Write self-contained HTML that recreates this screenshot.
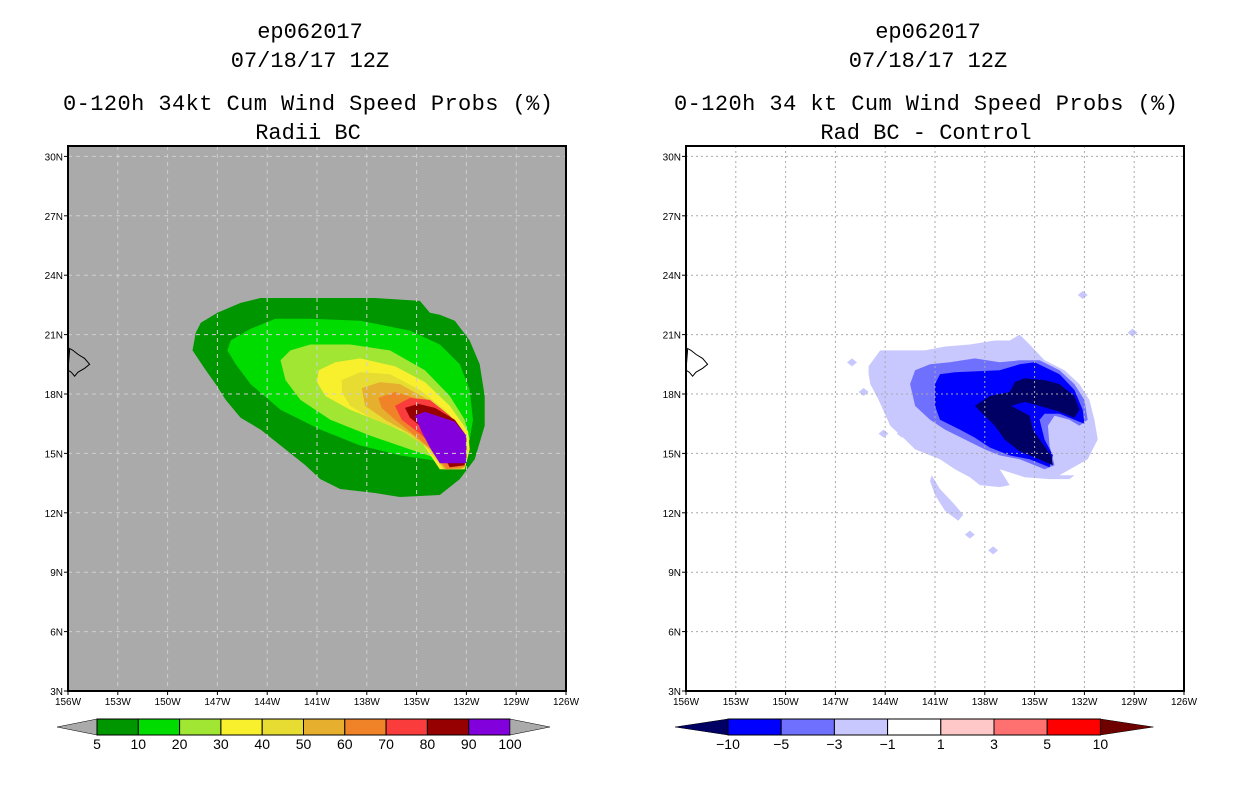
<!DOCTYPE html>
<html><head><meta charset="utf-8"><title>ep062017 wind speed probs</title>
<style>html,body{margin:0;padding:0;background:#fff;}svg{display:block;}</style></head>
<body>
<svg id="chart" width="1236" height="800" viewBox="0 0 1236 800" xmlns="http://www.w3.org/2000/svg" font-family="'Liberation Mono', monospace">
<g font-size="22" text-anchor="middle" fill="#000">
<text x="310" y="38">ep062017</text>
<text x="310" y="67">07/18/17 12Z</text>
<text x="308" y="110" textLength="490">0-120h 34kt Cum Wind Speed Probs (%)</text>
<text x="308" y="139">Radii BC</text>
</g>
<g font-size="22" text-anchor="middle" fill="#000">
<text x="928" y="38">ep062017</text>
<text x="928" y="67">07/18/17 12Z</text>
<text x="926" y="110" textLength="504">0-120h 34 kt Cum Wind Speed Probs (%)</text>
<text x="926" y="139">Rad BC - Control</text>
</g>
<g id="L"></g>
<g id="R"></g>
</svg>
<script>
const NS="http://www.w3.org/2000/svg";
const lonTicks=[-156,-153,-150,-147,-144,-141,-138,-135,-132,-129,-126];
const latTicks=[3,6,9,12,15,18,21,24,27,30];
const lonLabels=["156W","153W","150W","147W","144W","141W","138W","135W","132W","129W","126W"];
const latLabels=["3N","6N","9N","12N","15N","18N","21N","24N","27N","30N"];
const leftLevels=["5","10","20","30","40","50","60","70","80","90","100"];
const leftColors=["#009600","#00dc00","#a0e632","#f8f02c","#e6dc32","#e6af2d","#f08228","#fa3c3c","#960000","#8200dc"];
const rightLevels=["-10","-5","-3","-1","1","3","5","10"];
const rightColors=["#000064","#0000ff","#7070ff","#c8c8ff","#ffffff","#ffc8c8","#ff7070","#ff0000","#6e0000"];
const hawaii=[[-155.9,20.3],[-155.7,20.2],[-155.4,20.0],[-155.0,19.8],[-154.7,19.5],[-155.0,19.3],[-155.4,19.1],[-155.6,18.9],[-155.8,19.1],[-156,19.2]];
const left5=[[-148.3,21.1],[-148.0,21.6],[-147.0,22.1],[-145.6,22.6],[-144.4,22.85],[-142.0,22.85],[-137.5,22.85],[-134.8,22.7],[-134.2,22.1],[-133.6,22.0],[-132.7,21.7],[-131.8,20.7],[-131.2,19.5],[-130.9,17.9],[-130.9,16.4],[-131.5,14.7],[-132.4,13.7],[-133.6,12.9],[-136.0,12.8],[-137.5,13.0],[-139.6,13.2],[-140.8,13.7],[-141.7,14.4],[-142.9,15.2],[-144.4,16.2],[-145.6,16.8],[-146.5,17.7],[-147.1,18.5],[-147.7,19.2],[-148.5,20.2]];
const left10=[[-146.2,20.7],[-145.0,21.3],[-143.5,21.8],[-141.4,21.8],[-138.4,21.7],[-135.4,21.2],[-133.6,20.5],[-132.4,19.5],[-131.8,18.2],[-131.6,16.7],[-131.8,15.7],[-132.4,14.7],[-133.6,14.6],[-136.0,14.9],[-138.4,15.4],[-140.8,16.2],[-143.2,17.2],[-145.0,18.5],[-145.9,19.5],[-146.4,20.2]];
const left20=[[-143.2,19.7],[-142.6,20.2],[-141.4,20.5],[-139.0,20.5],[-136.6,20.2],[-134.5,19.2],[-133.0,17.9],[-132.1,16.7],[-131.8,15.7],[-132.5,14.6],[-133.6,14.7],[-135.4,15.2],[-137.8,15.9],[-140.2,16.7],[-142.0,17.7],[-142.9,18.7]];
const left30=[[-140.9,19.2],[-139.9,19.6],[-138.4,19.8],[-136.3,19.4],[-134.5,18.6],[-133.0,17.4],[-131.9,16.1],[-131.8,15.2],[-132.1,14.2],[-133.6,14.2],[-134.8,15.7],[-136.6,16.4],[-139.0,17.2],[-140.5,17.9],[-141.0,18.6]];
const left40=[[-139.5,18.7],[-138.4,19.1],[-136.6,19.0],[-134.8,18.2],[-133.3,17.2],[-132.1,16.1],[-131.9,15.1],[-132.2,14.2],[-133.4,14.2],[-134.5,15.4],[-136.0,16.2],[-137.8,16.8],[-139.0,17.4],[-139.5,18.1]];
const left50=[[-138.3,18.3],[-137.2,18.6],[-136.0,18.5],[-134.5,17.8],[-133.1,16.9],[-132.1,15.9],[-132.0,14.7],[-132.3,14.2],[-133.3,14.2],[-134.2,15.2],[-135.4,16.0],[-136.9,16.7],[-138.1,17.4]];
const left60=[[-137.3,17.8],[-136.3,18.1],[-135.1,17.8],[-133.6,17.2],[-132.4,16.2],[-132.0,15.4],[-132.1,14.3],[-133.2,14.2],[-134.1,15.2],[-135.1,15.9],[-136.3,16.7],[-137.1,17.3]];
const left70=[[-136.3,17.4],[-135.4,17.8],[-134.2,17.7],[-133.0,16.9],[-132.2,16.1],[-132.0,14.7],[-133.0,14.3],[-133.9,15.3],[-134.8,16.0],[-135.9,16.7]];
const left80=[[-135.7,17.3],[-134.9,17.5],[-133.9,17.3],[-132.7,16.7],[-132.1,16.0],[-132.1,14.4],[-133.0,14.3],[-133.8,15.7],[-134.8,16.4],[-135.4,16.8]];
const left90=[[-135.1,16.9],[-134.5,17.1],[-132.7,16.6],[-132.0,15.9],[-132.0,14.5],[-133.6,14.5],[-134.2,15.3],[-134.7,16.1]];
const rightM1=[[-145.0,19.4],[-144.3,20.2],[-143.1,20.2],[-141.6,20.2],[-140.4,20.4],[-138.9,20.5],[-137.4,20.7],[-136.5,20.7],[-135.9,21.0],[-135.3,20.5],[-134.4,19.7],[-133.2,19.2],[-132.3,18.5],[-131.7,17.7],[-131.4,16.7],[-131.2,15.7],[-131.8,14.7],[-133.5,13.9],[-132.6,13.9],[-132.9,13.7],[-134.1,13.7],[-135.6,13.8],[-137.1,14.2],[-136.5,13.4],[-137.1,13.3],[-138.3,13.4],[-138.9,13.8],[-139.8,14.2],[-140.7,14.7],[-142.2,15.2],[-142.8,15.7],[-143.7,16.4],[-144.4,17.7],[-144.9,18.5],[-145.0,19.0]];
const rightM1Streak=[[-141.2,13.9],[-140.7,13.2],[-139.8,12.4],[-139.3,11.9],[-139.6,11.6],[-140.4,12.1],[-141.0,12.9],[-141.3,13.6]];
const rightM1Blobs=[[-146.0,19.6],[-132.1,23.0],[-129.1,21.1],[-145.3,18.1],[-144.1,16.0],[-143.0,16.0],[-138.9,10.9],[-137.5,10.1]];
const rightM3=[[-142.5,18.5],[-142.2,19.2],[-141.3,19.5],[-140.1,19.6],[-138.6,19.8],[-137.1,19.6],[-135.9,19.7],[-134.7,19.7],[-133.5,19.2],[-132.6,18.5],[-132.0,17.7],[-131.8,16.7],[-132.3,16.4],[-132.9,16.7],[-133.8,16.9],[-134.2,16.4],[-134.1,15.4],[-133.8,14.4],[-134.4,14.2],[-135.9,14.7],[-137.1,14.9],[-138.0,15.2],[-139.2,15.7],[-140.4,16.2],[-141.3,16.7],[-142.2,17.4]];
const rightM5=[[-141.0,18.5],[-140.7,19.0],[-139.8,19.1],[-137.1,19.2],[-135.9,19.5],[-135.0,19.6],[-133.5,19.0],[-132.6,18.2],[-132.1,17.2],[-132.0,16.5],[-132.6,16.7],[-133.5,17.0],[-134.4,17.0],[-134.7,16.7],[-134.4,15.7],[-133.9,14.9],[-134.1,14.3],[-135.3,14.7],[-136.5,14.9],[-137.7,15.3],[-138.6,15.8],[-139.5,16.2],[-140.7,16.7],[-141.0,17.4]];
const rightM10=[[-138.6,17.4],[-137.7,17.9],[-136.5,18.1],[-136.2,18.6],[-135.6,18.8],[-134.4,18.7],[-133.5,18.5],[-132.6,17.9],[-132.3,17.2],[-132.6,16.8],[-133.5,17.1],[-134.7,17.4],[-135.6,17.6],[-136.4,17.4],[-135.3,16.9],[-135.1,16.2],[-134.7,15.7],[-134.0,14.9],[-133.9,14.4],[-135.0,14.8],[-135.9,15.1],[-136.8,15.7],[-137.4,16.4],[-138.0,16.9]];

function mk(tag,attrs,parent){const e=document.createElementNS(NS,tag);for(const k in attrs)e.setAttribute(k,attrs[k]);parent.appendChild(e);return e;}
function panel(g,x0,bg,gridColor,gridDash){
  const W=498,Y0=146,Y1=691;
  const xs=lon=>x0+(lon+156)*W/30;
  const ys=lat=>691-(lat-3)*19.8;
  const pts=a=>a.map(p=>xs(p[0]).toFixed(1)+","+ys(p[1]).toFixed(1)).join(" ");
  const bgR=mk("rect",{x:x0,y:Y0,width:W,height:Y1-Y0,fill:bg},g);
  
  
  return {xs,ys,pts,W,Y0,Y1,x0,grid(){
    const gg=mk("g",{},g);
    
    
    lonTicks.forEach((t,i)=>{if(i>0&&i<lonTicks.length-1)mk("line",{x1:xs(t),x2:xs(t),y1:Y0,y2:Y1,stroke:gridColor,"stroke-dasharray":gridDash,"stroke-width":1},gg);});
    latTicks.forEach((t,i)=>{if(i>0)mk("line",{x1:x0,x2:x0+W,y1:ys(t),y2:ys(t),stroke:gridColor,"stroke-dasharray":gridDash,"stroke-width":1},gg);});
  },axes(){
    const ag=mk("g",{"font-family":"'Liberation Sans', sans-serif","font-size":"10",fill:"#000"},g);
    
    
    lonTicks.forEach((t,i)=>{
      mk("line",{x1:xs(t),x2:xs(t),y1:Y1,y2:Y1+4,stroke:"#000"},ag);
      const tx=mk("text",{x:xs(t),y:Y1+14,"text-anchor":"middle"},ag);tx.textContent=lonLabels[i];
      
      
    });
    latTicks.forEach((t,i)=>{
      mk("line",{x1:x0-4,x2:x0,y1:ys(t),y2:ys(t),stroke:"#000"},ag);
      const tx=mk("text",{x:x0-5,y:ys(t)+4,"text-anchor":"end"},ag);tx.textContent=latLabels[i];
      
      
    });
    const hw=mk("polygon",{points:pts(hawaii),fill:"none",stroke:"#000","stroke-width":1},g);
    
    
    const fr=mk("rect",{x:x0,y:Y0,width:W,height:Y1-Y0,fill:"none",stroke:"#000","stroke-width":2},g);
    
    
  }};
}
function colorbar(g,left,boxW,colors,labels,tri){
  const y=719,h=16;
  const cb=mk("g",{},g);
  
  
  const n=labels.length;
  const nb=n-1;
  const end=left+nb*boxW;
  const lt=mk("polygon",{points:`${left-tri},${y+h/2} ${left},${y} ${left},${y+h}`,fill:colors[0],stroke:"#000","stroke-width":0.5},cb);
  
  
  for(let i=0;i<nb;i++){
    const r=mk("rect",{x:left+i*boxW,y:y,width:boxW,height:h,fill:colors[i+1],stroke:"#000","stroke-width":1},cb);
    
    
  }
  const rt=mk("polygon",{points:`${end},${y} ${end+tri},${y+h/2} ${end},${y+h}`,fill:colors[colors.length-1],stroke:"#000","stroke-width":0.5},cb);
  
  
  labels.forEach((l,i)=>{
    const t=mk("text",{x:left+i*boxW,y:y+h+14,"text-anchor":"middle","font-family":"'Liberation Sans', sans-serif","font-size":"14"},cb);
    t.textContent=l.replace("-","\u2212");
    
    
  });
}
// Left panel
const LG=document.getElementById("L");
const lp=panel(LG,68,"#aaaaaa","#cfcfcf","4,4");
const leftPolys=[left5,left10,left20,left30,left40,left50,left60,left70,left80,left90];
leftPolys.forEach((poly,i)=>{
  const p=mk("polygon",{points:lp.pts(poly),fill:leftColors[i]},LG);
  
  
});
lp.grid();lp.axes();
colorbar(LG,97,41.3,["#aaaaaa"].concat(leftColors).concat(["#aaaaaa"]),leftLevels,40);
// Right panel
const RG=document.getElementById("R");
const rp=panel(RG,686,"#ffffff","#aaaaaa","2,3");
[rightM1,rightM1Streak].forEach(poly=>{
  const p=mk("polygon",{points:rp.pts(poly),fill:"#c8c8ff"},RG);
  
  
});
rightM1Blobs.forEach(b=>{
  const cx=rp.xs(b[0]),cy=rp.ys(b[1]);
  const p=mk("polygon",{points:`${cx-5},${cy} ${cx},${cy-4} ${cx+5},${cy} ${cx},${cy+4}`,fill:"#c8c8ff"},RG);
  
  
});
[[rightM3,"#7070ff","contour-minus3"],[rightM5,"#0000ff","contour-minus5"],[rightM10,"#000064","contour-minus10"]].forEach(a=>{
  const p=mk("polygon",{points:rp.pts(a[0]),fill:a[1]},RG);
  
  
});
rp.grid();rp.axes();
colorbar(RG,728,53.2,rightColors,rightLevels,53);
</script>
</body></html>
